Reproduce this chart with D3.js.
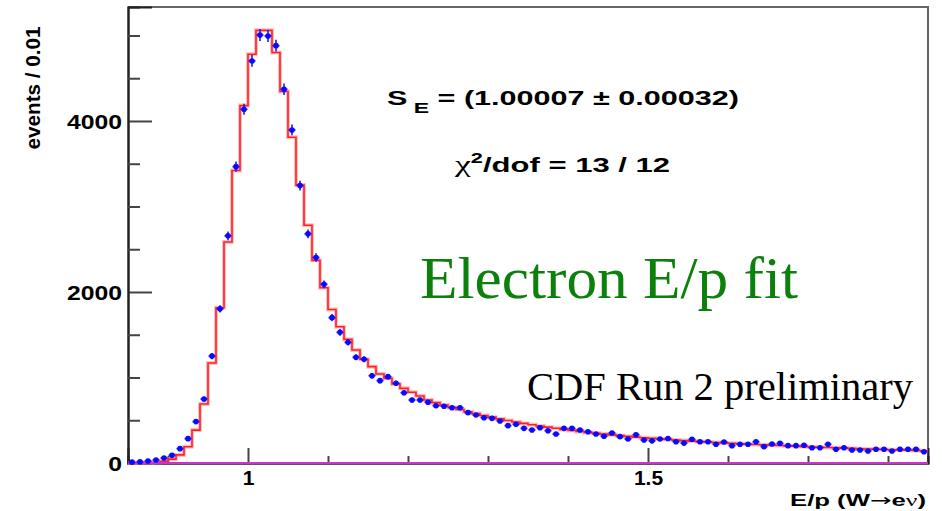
<!DOCTYPE html>
<html>
<head>
<meta charset="utf-8">
<script src="https://cdn.jsdelivr.net/npm/d3@7"></script>
<style>
  body { margin: 0; background: #fff; }
  svg { display: block; }
  .ax text { font-family: "Liberation Sans", Arial, sans-serif; font-weight: bold; font-size: 21px; fill: #000; }
</style>
</head>
<body>
<div id="chart-area"></div>
<script>
// E/p histogram, bins of 0.01 from 0.85 to 1.85
const binStart = 0.85;
const binWidth = 0.01;

// data points (blue)
const dataCounts = [
  10, 15, 23, 35, 58, 90, 168, 285, 484, 748,
  1250, 1803, 2657, 3466, 4136, 4702, 5006, 4994, 4881, 4371,
  3895, 3244, 2680, 2403, 2090, 1700, 1528, 1411, 1236, 1213,
  1021, 963, 1010, 932, 822, 737, 737, 710, 670, 664,
  647, 647, 589, 561, 530, 522, 491, 437, 452, 405,
  386, 413, 378, 339, 405, 405, 386, 366, 339, 312,
  351, 308, 281, 331, 269, 259, 281, 286, 249, 233,
  277, 249, 249, 219, 246, 203, 219, 219, 249, 191,
  222, 230, 203, 203, 207, 179, 179, 219, 160, 179,
  152, 152, 140, 160, 160, 140, 160, 160, 160, 132
];

// fit template (red histogram)
const fitCounts = [
  1, 2, 4, 8, 20, 45, 95, 190, 385, 690,
  1170, 1815, 2585, 3420, 4180, 4780, 5060, 5060, 4800, 4345,
  3810, 3250, 2780, 2370, 2050, 1795, 1594, 1447, 1322, 1213,
  1127, 1041, 990, 924, 873, 827, 784, 737, 706, 678,
  650, 625, 600, 578, 556, 536, 516, 497, 480, 463,
  448, 433, 419, 406, 393, 381, 369, 358, 348, 338,
  329, 320, 311, 303, 295, 288, 281, 274, 268, 262,
  256, 250, 245, 240, 235, 230, 225, 220, 216, 212,
  208, 204, 200, 196, 192, 188, 185, 181, 178, 174,
  171, 167, 164, 161, 158, 155, 152, 149, 146, 143
];

const xMajor = [1, 1.5];
const xMinor = [0.9, 1.1, 1.2, 1.3, 1.4, 1.6, 1.7, 1.8];
const yMajor = [0, 2000, 4000];
const yMinor = [500, 1000, 1500, 2500, 3000, 3500, 4500, 5000];

const svg = d3.select("#chart-area")
    .append("svg")
    .attr("width", 942)
    .attr("height", 511);

svg.append("rect").attr("width", 942).attr("height", 511).attr("fill", "#fff");

const x = d3.scaleLinear().domain([0.85, 1.85]).range([128, 928]);
const y = d3.scaleLinear().domain([0, 5333]).range([463, 7]);

// frame (top / right)
svg.append("path")
    .attr("d", "M128,7H928V463")
    .attr("fill", "none")
    .attr("stroke", "#666")
    .attr("stroke-width", 2);

// y axis
const yAx = svg.append("g").attr("class", "ax").attr("transform", "translate(128,0)")
    .call(d3.axisLeft(y).tickValues(yMajor).tickSize(-24).tickPadding(6).tickFormat(d3.format("d")));
svg.append("g").attr("class", "ax").attr("transform", "translate(128,0)")
    .call(d3.axisLeft(y).tickValues(yMinor).tickSize(-12).tickFormat(""));
yAx.selectAll("text").attr("dy", "0.36em").each(function () {
    this.setAttribute("textLength", this.getComputedTextLength() * 1.18);
    this.setAttribute("lengthAdjust", "spacingAndGlyphs");
});

// x axis
svg.append("g").attr("class", "ax").attr("transform", "translate(0,463)")
    .call(d3.axisBottom(x).tickValues(xMajor).tickSize(-15).tickPadding(7).tickFormat(d3.format("")));
svg.append("g").attr("class", "ax").attr("transform", "translate(0,463)")
    .call(d3.axisBottom(x).tickValues(xMinor).tickSize(-7).tickFormat(""));

svg.selectAll(".ax line").attr("stroke", "#444").attr("stroke-width", 2);
svg.selectAll(".ax path.domain").attr("stroke", "#222").attr("stroke-width", 2);

// fit histogram as steps
const steps = fitCounts.map((v, i) => [binStart + i * binWidth, v]);
steps.push([binStart + fitCounts.length * binWidth, fitCounts[fitCounts.length - 1]]);
const stepLine = d3.line()
    .x(d => x(d[0]))
    .y(d => y(d[1]))
    .curve(d3.curveStepAfter);

svg.append("path")
    .attr("d", stepLine(steps))
    .attr("fill", "none")
    .attr("stroke", "#ff9a9a")
    .attr("stroke-width", 4)
    .attr("opacity", 0.6);
svg.append("path")
    .attr("d", stepLine(steps))
    .attr("fill", "none")
    .attr("stroke", "#ff2020")
    .attr("stroke-width", 1.6);

// zero line
svg.append("line")
    .attr("x1", x(0.85)).attr("x2", x(1.85))
    .attr("y1", y(0)).attr("y2", y(0))
    .attr("stroke", "#cc33cc")
    .attr("stroke-width", 2);

// data points with errors
const pts = svg.append("g").selectAll("g")
    .data(dataCounts)
    .enter().append("g")
    .attr("transform", (d, i) => "translate(" + x(binStart + (i + 0.5) * binWidth) + "," + y(d) + ")");
pts.append("line")
    .attr("x1", 0).attr("x2", 0)
    .attr("y1", d => y(d + Math.sqrt(d)) - y(d))
    .attr("y2", d => y(d - Math.sqrt(d)) - y(d))
    .attr("stroke", "#1a1aff").attr("stroke-width", 1.6);
pts.append("line")
    .attr("x1", -3.5).attr("x2", 3.5)
    .attr("stroke", "#1a1aff").attr("stroke-width", 1.6);
pts.append("circle")
    .attr("r", 2.8)
    .attr("fill", "#0a0aff");

// labels
function stretch(sel, len) {
    sel.attr("textLength", len).attr("lengthAdjust", "spacingAndGlyphs");
}

svg.append("text")
    .attr("transform", "translate(40,88) rotate(-90)")
    .attr("text-anchor", "middle")
    .style("font-family", "Liberation Sans, Arial, sans-serif")
    .style("font-weight", "bold")
    .style("font-size", "20px")
    .text("events / 0.01")
    .call(stretch, 123);

const xl = svg.append("text")
    .attr("x", 926).attr("y", 506)
    .attr("text-anchor", "end")
    .style("font-family", "Liberation Sans, Arial, sans-serif")
    .style("font-weight", "bold")
    .style("font-size", "17px");
xl.append("tspan").text("E/p (W");
xl.append("tspan").style("font-family", "DejaVu Sans, sans-serif").style("font-weight", "normal").text("\u2192");
xl.append("tspan").text("e");
xl.append("tspan").style("font-family", "Liberation Serif, serif").style("font-weight", "normal").text("\u03bd");
xl.append("tspan").text(")");
xl.call(stretch, 136);

const se = svg.append("text")
    .attr("x", 387).attr("y", 105)
    .style("font-family", "Liberation Sans, Arial, sans-serif")
    .style("font-weight", "bold")
    .style("font-size", "20px");
se.append("tspan").text("S");
se.append("tspan").attr("dy", 8).style("font-size", "15px").text(" E");
se.append("tspan").attr("dy", -8).text(" = (1.00007 \u00b1 0.00032)");
se.call(stretch, 352);

const chi = svg.append("text")
    .attr("x", 455).attr("y", 172)
    .style("font-family", "Liberation Sans, Arial, sans-serif")
    .style("font-weight", "bold")
    .style("font-size", "20px");
chi.append("tspan").style("font-family", "Liberation Serif, serif").style("font-weight", "normal").style("font-size", "23px").text("\u03c7");
chi.append("tspan").attr("dy", -9).style("font-size", "14px").text("2");
chi.append("tspan").attr("dy", 9).text("/dof = 13 / 12");
chi.call(stretch, 215);

svg.append("text")
    .attr("x", 420).attr("y", 298)
    .style("font-family", "Liberation Serif, Times New Roman, serif")
    .style("font-size", "60px")
    .attr("fill", "#0b800b")
    .text("Electron E/p fit")
    .call(stretch, 378);

svg.append("text")
    .attr("x", 527).attr("y", 400)
    .style("font-family", "Liberation Serif, Times New Roman, serif")
    .style("font-size", "40px")
    .attr("fill", "#000")
    .text("CDF Run 2 preliminary")
    .call(stretch, 386);
</script>
</body>
</html>
